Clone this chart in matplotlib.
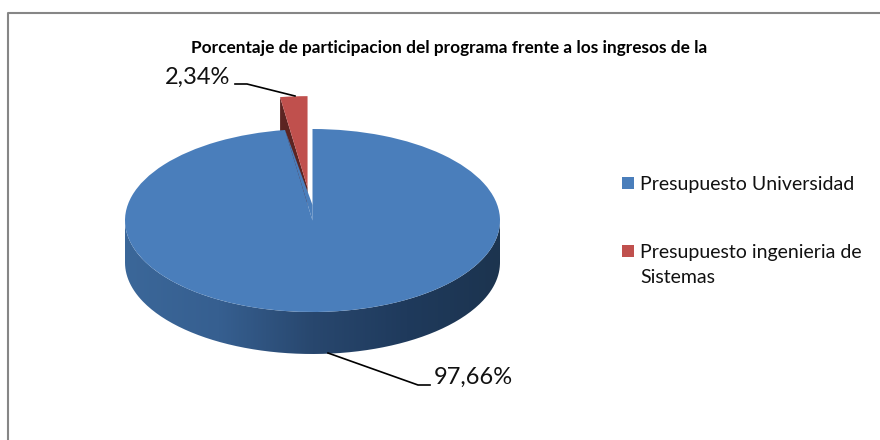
import matplotlib
matplotlib.use('Agg')
import matplotlib.pyplot as plt
import numpy as np
from matplotlib.colors import LinearSegmentedColormap
from matplotlib.lines import Line2D
from matplotlib.patches import PathPatch, Polygon, Rectangle
from matplotlib.path import Path

plt.rcParams['font.family'] = ['Lato', 'DejaVu Sans']

title = "Porcentaje de participacion del programa frente a los ingresos de la"
categories = ["Presupuesto Universidad", "Presupuesto ingenieria de\nSistemas"]
values = [97.66, 2.34]
colors = ['#4a7ebb', '#c0504d']

W, H = 880, 440
CX, CY, RX, RY = 312.5, 220.5, 187.5, 91.5
DEPTH = 42 / RY
EXPLODE = 0.36
TIP = (CY - 205) / RY  # the big slice meets higher up than the ellipse centre

fig = plt.figure(figsize=(W / 100, H / 100), dpi=100)
fig.patch.set_facecolor('white')
ax = fig.add_axes([0, 0, 1, 1])


def fx(x):
    return x / W


def fy(y):
    return 1 - y / H


# only the top and left sides of the frame are in the picture
fig.add_artist(Line2D([fx(8), fx(8), 1], [0, fy(13), fy(13)], color='#868686',
                      linewidth=1.5, transform=fig.transFigure))

wedges, _ = ax.pie(values, colors=colors, startangle=90, counterclock=False,
                   explode=[0, EXPLODE], wedgeprops={'linewidth': 0, 'zorder': 5})
wedges[1].set_zorder(2)
ax.set_aspect('auto')

# side wall of the big slice, dark towards the right
t = np.linspace(np.pi, 2 * np.pi, 200)
wall_x = np.concatenate([np.cos(t), np.cos(t[::-1])])
wall_y = np.concatenate([np.sin(t) - DEPTH, np.sin(t[::-1])])
wall = Path(np.column_stack([wall_x, wall_y]))
cmap = LinearSegmentedColormap.from_list(
    'wall', ['#3b6799', '#365f90', '#28476e', '#1f3a5c', '#1c344f'])
im = ax.imshow(np.linspace(0, 1, 256).reshape(1, -1), cmap=cmap, aspect='auto',
               extent=(-1, 1, -1 - DEPTH, 0), zorder=4)
im.set_clip_path(PathPatch(wall, transform=ax.transData))
ax.set_xlim(-CX / RX, (W - CX) / RX)
ax.set_ylim((CY - H) / RY, CY / RY)

# cut face of the small slice, seen behind the big one
angle = 2 * np.pi * values[1] / sum(values)
mid = angle / 2
apex = np.array([-np.sin(mid) * EXPLODE, np.cos(mid) * EXPLODE])
edge = np.array([-np.sin(angle), np.cos(angle)])
rim = apex + edge
ax.add_patch(Polygon([apex, rim, rim - [0, DEPTH], apex - [0, DEPTH]], closed=True,
                     facecolor='#5c2422', edgecolor='none', zorder=1))
ax.add_patch(Polygon([edge, [0, TIP], [0, 0]], closed=True,
                     facecolor=colors[0], edgecolor='none', zorder=6))

fig.text(fx(449.5), fy(48.5), title, fontsize=12.4, fontweight='bold', color='black',
         ha='center', va='center')

labels = [f"{v:.2f}%".replace('.', ',') for v in values]
fig.text(fx(434), fy(377), labels[0], fontsize=17, ha='left', va='center', color='#111111')
fig.text(fx(230), fy(77), labels[1], fontsize=17, ha='right', va='center', color='#111111')

for xs, ys in [([328, 418, 430], [353, 385, 385]), ([235, 247, 295], [84, 84, 96])]:
    fig.add_artist(Line2D([fx(x) for x in xs], [fy(y) for y in ys], color='black',
                          linewidth=1.2, transform=fig.transFigure))

# legend: square sits on the first line of its label
for name, color, y in zip(categories, colors, [183, 251]):
    fig.add_artist(Rectangle((fx(622), fy(y + 6)), 12 / W, 12 / H, transform=fig.transFigure,
                             facecolor=color, edgecolor='none'))
    fig.text(fx(640), fy(y - 7), name, fontsize=14, color='#111111', ha='left', va='top',
             linespacing=1.6)

fig.savefig('out.png', dpi=100)
